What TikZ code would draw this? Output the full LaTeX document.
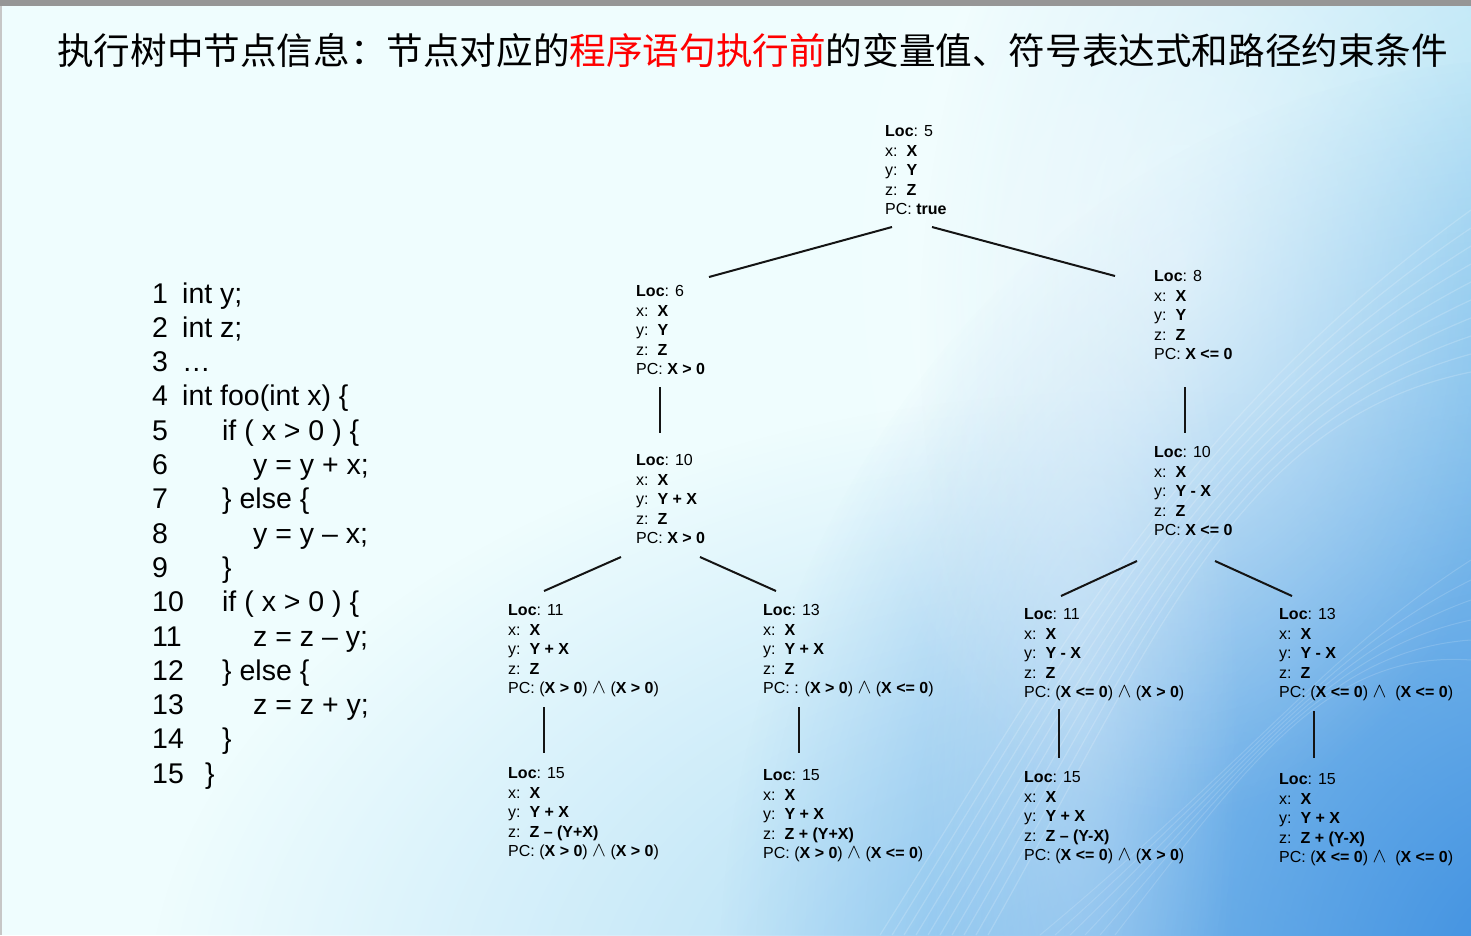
\documentclass[tikz,border=0pt]{standalone}
\usepackage{fontspec}
\setmainfont{Liberation Sans}
\newfontfamily\cjkfont{Noto Sans CJK SC}
\usetikzlibrary{fadings}

\definecolor{basecyan}{HTML}{EFFDFE}
\definecolor{skyglow}{HTML}{A6DCF4}
\definecolor{lowglow}{HTML}{92CDF1}
\definecolor{deepglow}{HTML}{3A8DE0}
\definecolor{barGray}{HTML}{969696}
\definecolor{titlered}{HTML}{FF0000}

\tikzfading[name=softglow, inner color=transparent!0, outer color=transparent!100]

% logical "and" sign
\newcommand{\conj}{\smash{\fontsize{22}{19.5}\selectfont$\wedge$}}
% one symbolic-execution state: location, x, y, z and path condition
\newcommand{\stateinfo}[5]{%
  \begin{tabular}[t]{@{}l@{}}
    \textbf{Loc}: #1\\
    x:\ \ \textbf{#2}\\
    y:\ \ \textbf{#3}\\
    z:\ \ \textbf{#4}\\
    PC: #5
  \end{tabular}}
% one numbered source line with indentation
\newcommand{\srcline}[3]{\makebox[30pt][l]{#1}\hspace*{#2}#3}

\tikzset{
  state/.style={anchor=base west, inner sep=0pt, font=\fontsize{16}{19.5}\selectfont},
  edge/.style={line width=2pt, draw=black!92},
  title/.style={anchor=west, inner sep=0pt, font=\cjkfont\fontsize{36.6}{40}\selectfont},
  codeblock/.style={anchor=base west, inner sep=0pt, font=\fontsize{28.5}{34.3}\selectfont}
}

\begin{document}
\begin{tikzpicture}[x=1pt, y=-1pt]
  \useasboundingbox (0,0) rectangle (1471,935);

  % slide background
  \begin{scope}
    \clip (0,0) rectangle (1471,935);
    \fill[basecyan] (0,0) rectangle (1471,935);
    \fill[skyglow, path fading=softglow] (1540,330) ellipse (620 and 820);
    \fill[lowglow, opacity=0.8, path fading=softglow] (1150,1010) ellipse (1000 and 620);
    \fill[deepglow, path fading=softglow] (1540,990) ellipse (820 and 940);
    % light sweeping band
    \fill[white, opacity=0.5, path fading=softglow] (1180,260) ellipse (360 and 560);
    \fill[white, opacity=0.3, path fading=softglow] (1080,700) ellipse (160 and 700);
    \foreach \k in {0,...,9} {
      \draw[white, opacity=0.18, line width=1.2pt]
        (880+12*\k,935) .. controls (1060+10*\k,650) and (1180+6*\k,420) .. (1471,210+18*\k);
    }
    \foreach \k in {0,...,5} {
      \draw[white, opacity=0.15, line width=1pt]
        (1040+15*\k,935) .. controls (1250,760) and (1330,650) .. (1471,560+20*\k);
    }
    \fill[barGray] (0,0) rectangle (1471,5.5);
    \fill[black!22] (0,5.5) rectangle (1.5,935);
  \end{scope}

  % heading
  \node[title] (head) at (57,51) {执行树中节点信息：节点对应的\textcolor{titlered}{程序语句执行前}的变量值、符号表达式和路径约束条件};

  % source program
  \node[codeblock] (code) at (152,303) {%
    \begin{tabular}[t]{@{}l@{}}
      \srcline{1}{0pt}{int y;}\\
      \srcline{2}{0pt}{int z;}\\
      \srcline{3}{0pt}{\dots}\\
      \srcline{4}{0pt}{int foo(int x) \{}\\
      \srcline{5}{40pt}{if ( x > 0 ) \{}\\
      \srcline{6}{71pt}{y = y + x;}\\
      \srcline{7}{40pt}{\} else \{}\\
      \srcline{8}{71pt}{y = y – x;}\\
      \srcline{9}{40pt}{\}}\\
      \srcline{10}{40pt}{if ( x > 0 ) \{}\\
      \srcline{11}{71pt}{z = z – y;}\\
      \srcline{12}{40pt}{\} else \{}\\
      \srcline{13}{71pt}{z = z + y;}\\
      \srcline{14}{40pt}{\}}\\
      \srcline{15}{23pt}{\}}
    \end{tabular}};

  % execution tree states
  \node[state] (s5)  at (885,136.5)  {\stateinfo{5}{X}{Y}{Z}{\textbf{true}}};
  \node[state] (s6)  at (636,296.5)  {\stateinfo{6}{X}{Y}{Z}{\textbf{X > 0}}};
  \node[state] (s8)  at (1154,281.5) {\stateinfo{8}{X}{Y}{Z}{\textbf{X <= 0}}};
  \node[state] (s10a) at (636,465.5) {\stateinfo{10}{X}{Y + X}{Z}{\textbf{X > 0}}};
  \node[state] (s10b) at (1154,457.5) {\stateinfo{10}{X}{Y - X}{Z}{\textbf{X <= 0}}};
  \node[state] (s11a) at (508,615.5) {\stateinfo{11}{X}{Y + X}{Z}{(\textbf{X > 0}) \conj{} (\textbf{X > 0})}};
  \node[state] (s13a) at (763,615.5) {\stateinfo{13}{X}{Y + X}{Z}{: (\textbf{X > 0}) \conj{} (\textbf{X <= 0})}};
  \node[state] (s11b) at (1024,619.5) {\stateinfo{11}{X}{Y - X}{Z}{(\textbf{X <= 0}) \conj{} (\textbf{X > 0})}};
  \node[state] (s13b) at (1279,619.5) {\stateinfo{13}{X}{Y - X}{Z}{(\textbf{X <= 0}) \conj{}\ \ (\textbf{X <= 0})}};
  \node[state] (s15a) at (508,778.5) {\stateinfo{15}{X}{Y + X}{Z – (Y+X)}{(\textbf{X > 0}) \conj{} (\textbf{X > 0})}};
  \node[state] (s15b) at (763,780.5) {\stateinfo{15}{X}{Y + X}{Z + (Y+X)}{(\textbf{X > 0}) \conj{} (\textbf{X <= 0})}};
  \node[state] (s15c) at (1024,782.5) {\stateinfo{15}{X}{Y + X}{Z – (Y-X)}{(\textbf{X <= 0}) \conj{} (\textbf{X > 0})}};
  \node[state] (s15d) at (1279,784.5) {\stateinfo{15}{X}{Y + X}{Z + (Y-X)}{(\textbf{X <= 0}) \conj{}\ \ (\textbf{X <= 0})}};

  % tree edges
  \draw[edge] ([shift={(7,90.5)}]s5.base west)   -- ([shift={(73,-19.5)}]s6.base west);
  \draw[edge] ([shift={(47,90.5)}]s5.base west)  -- ([shift={(-39,-5.5)}]s8.base west);
  \draw[edge] ([shift={(24,90.5)}]s6.base west)  -- ([shift={(24,-32.5)}]s10a.base west);
  \draw[edge] ([shift={(31,105.5)}]s8.base west) -- ([shift={(31,-24.5)}]s10b.base west);
  \draw[edge] ([shift={(-15,91.5)}]s10a.base west) -- ([shift={(36,-24.5)}]s11a.base west);
  \draw[edge] ([shift={(64,91.5)}]s10a.base west)  -- ([shift={(13,-24.5)}]s13a.base west);
  \draw[edge] ([shift={(-17,103.5)}]s10b.base west) -- ([shift={(37,-23.5)}]s11b.base west);
  \draw[edge] ([shift={(61,103.5)}]s10b.base west)  -- ([shift={(13,-23.5)}]s13b.base west);
  \draw[edge] ([shift={(36,91.5)}]s11a.base west) -- ([shift={(36,-25.5)}]s15a.base west);
  \draw[edge] ([shift={(36,91.5)}]s13a.base west) -- ([shift={(36,-27.5)}]s15b.base west);
  \draw[edge] ([shift={(35,89.5)}]s11b.base west) -- ([shift={(35,-24.5)}]s15c.base west);
  \draw[edge] ([shift={(35,91.5)}]s13b.base west) -- ([shift={(35,-26.5)}]s15d.base west);
\end{tikzpicture}
\end{document}
